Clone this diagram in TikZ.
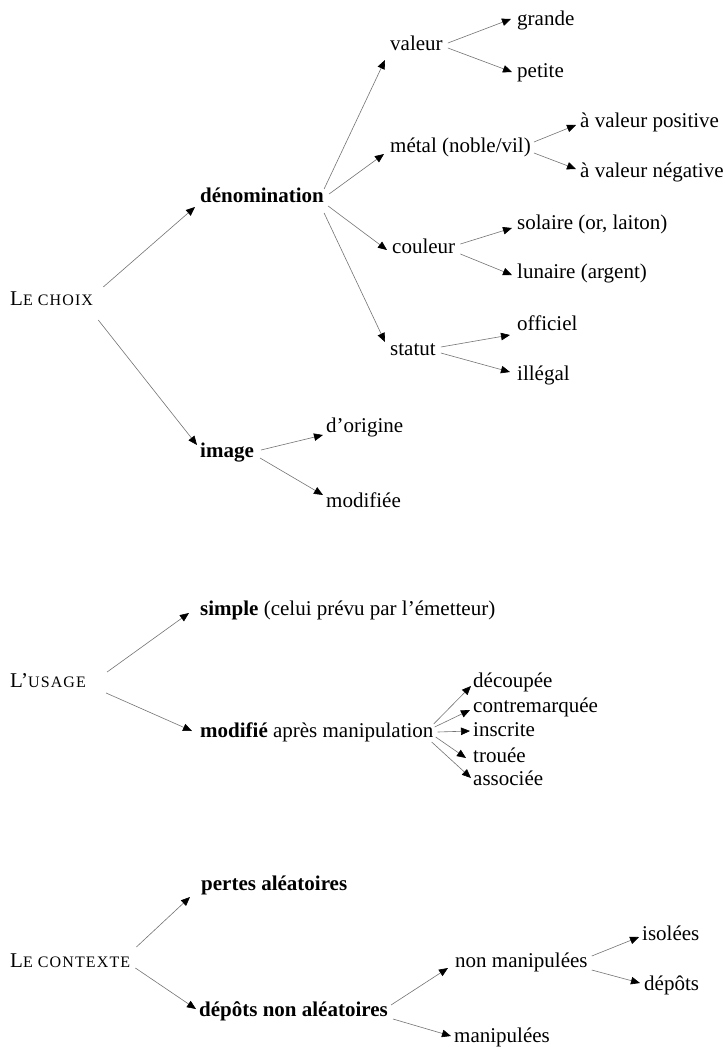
\documentclass[tikz,border=0pt]{standalone}
\usepackage{fontspec}
\setmainfont{Liberation Serif}
\newfontfamily\scf[LetterSpace=7]{Liberation Serif}
\usetikzlibrary{arrows.meta}
\newcommand\bigL[1]{{\fontsize{21}{25}\selectfont #1}}
\newcommand\smc[1]{{\scf\fontsize{16}{19}\selectfont #1}}
\begin{document}
\begin{tikzpicture}[x=1pt,y=-1pt,
  lbl/.style={anchor=west,inner sep=0pt,text height=14pt,text depth=4pt,font=\fontsize{21}{25}\selectfont},
  bflbl/.style={lbl,font=\fontsize{21}{25}\selectfont\bfseries},
  conn/.style={draw=black!55,line width=0.6pt,-{Triangle[length=9pt,width=7.5pt,color=black]}}]
\useasboundingbox (0,0) rectangle (724,1047);
% ---- Le choix
\node[lbl] (choix) at (10,300) {\bigL{L}\smc{E CHOIX}};
\node[bflbl] (den) at (200,197) {dénomination};
\node[lbl] (val) at (390,45) {valeur};
\node[lbl] (gra) at (517,20) {grande};
\node[lbl] (pet) at (517,72) {petite};
\node[lbl] (met) at (390,147) {métal (noble/vil)};
\node[lbl] (pos) at (580,122) {à valeur positive};
\node[lbl] (neg) at (580,172) {à valeur négative};
\node[lbl] (cou) at (392,248) {couleur};
\node[lbl] (sol) at (517,224) {solaire (or, laiton)};
\node[lbl] (lun) at (517,273) {lunaire (argent)};
\node[lbl] (sta) at (390,350) {statut};
\node[lbl] (off) at (517,325) {officiel};
\node[lbl] (ill) at (517,375) {illégal};
\node[bflbl] (ima) at (200,452) {image};
\node[lbl] (ori) at (326,427) {d’origine};
\node[lbl] (mdf) at (326,502) {modifiée};
\path[conn] ([shift={(10,-13)}]choix.east) -- ([shift={(-5,10)}]den.west);
\path[conn] ([shift={(5,20)}]choix.east) -- ([shift={(-3,-7)}]ima.west);
\path[conn] ([shift={(0,-8)}]den.east) -- ([shift={(-5,15)}]val.west);
\path[conn] ([shift={(5,-3)}]den.east) -- ([shift={(-6,7)}]met.west);
\path[conn] ([shift={(4,9)}]den.east) -- ([shift={(-5,2)}]cou.west);
\path[conn] ([shift={(0,16)}]den.east) -- ([shift={(-5,-8)}]sta.west);
\path[conn] ([shift={(5,-2)}]val.east) -- ([shift={(-6,-1)}]gra.west);
\path[conn] ([shift={(5,3)}]val.east) -- ([shift={(-5,0)}]pet.west);
\path[conn] ([shift={(3,-5)}]met.east) -- ([shift={(-4,3)}]pos.west);
\path[conn] ([shift={(3,6)}]met.east) -- ([shift={(-4,-3)}]neg.west);
\path[conn] ([shift={(5,-4)}]cou.east) -- ([shift={(-5,4)}]sol.west);
\path[conn] ([shift={(5,6)}]cou.east) -- ([shift={(-5,2)}]lun.west);
\path[conn] ([shift={(5,-3)}]sta.east) -- ([shift={(-7,10)}]off.west);
\path[conn] ([shift={(5,3)}]sta.east) -- ([shift={(-7,-3)}]ill.west);
\path[conn] ([shift={(7,-2)}]ima.east) -- ([shift={(-3,8)}]ori.west);
\path[conn] ([shift={(6,6)}]ima.east) -- ([shift={(-3,-7)}]mdf.west);
% ---- L'usage
\node[lbl] (usage) at (10,682) {\bigL{L’}\smc{USAGE}};
\node[lbl] (simple) at (200,610) {\textbf{simple} (celui prévu par l’émetteur)};
\node[lbl] (modif) at (200,732) {\textbf{modifié} après manipulation};
\node[lbl] (dec) at (473,682) {découpée};
\node[lbl] (con) at (473,707) {contremarquée};
\node[lbl] (ins) at (473,731) {inscrite};
\node[lbl] (tro) at (473,757) {trouée};
\node[lbl] (ass) at (473,780) {associée};
\path[conn] ([shift={(21,-10)}]usage.east) -- ([shift={(-11,3)}]simple.west);
\path[conn] ([shift={(20,11)}]usage.east) -- ([shift={(-8,-1)}]modif.west);
\path[conn] ([shift={(0,-8)}]modif.east) -- ([shift={(-2,4)}]dec.west);
\path[conn] ([shift={(1,-5)}]modif.east) -- ([shift={(-3,3)}]con.west);
\path[conn] ([shift={(4,0)}]modif.east) -- ([shift={(-3,0)}]ins.west);
\path[conn] ([shift={(2,5)}]modif.east) -- ([shift={(-7,1)}]tro.west);
\path[conn] ([shift={(-2,10)}]modif.east) -- ([shift={(-2,-2)}]ass.west);
% ---- Le contexte
\node[lbl] (ctx) at (10,962) {\bigL{L}\smc{E CONTEXTE}};
\node[bflbl] (per) at (201,885) {pertes aléatoires};
\node[bflbl] (dna) at (199,1011) {dépôts non aléatoires};
\node[lbl] (nm) at (455,962) {non manipulées};
\node[lbl] (iso) at (642,935) {isolées};
\node[lbl] (dep) at (644,985) {dépôts};
\node[lbl] (man) at (454,1037) {manipulées};
\path[conn] ([shift={(6,-15)}]ctx.east) -- ([shift={(-11,12)}]per.west);
\path[conn] ([shift={(5,6)}]ctx.east) -- ([shift={(-3,-2)}]dna.west);
\path[conn] ([shift={(3,-6)}]dna.east) -- ([shift={(-7,6)}]nm.west);
\path[conn] ([shift={(5,8)}]dna.east) -- ([shift={(-3,-1)}]man.west);
\path[conn] ([shift={(4,-6)}]nm.east) -- ([shift={(-3,2)}]iso.west);
\path[conn] ([shift={(4,8)}]nm.east) -- ([shift={(-4,-2)}]dep.west);
\end{tikzpicture}
\end{document}
